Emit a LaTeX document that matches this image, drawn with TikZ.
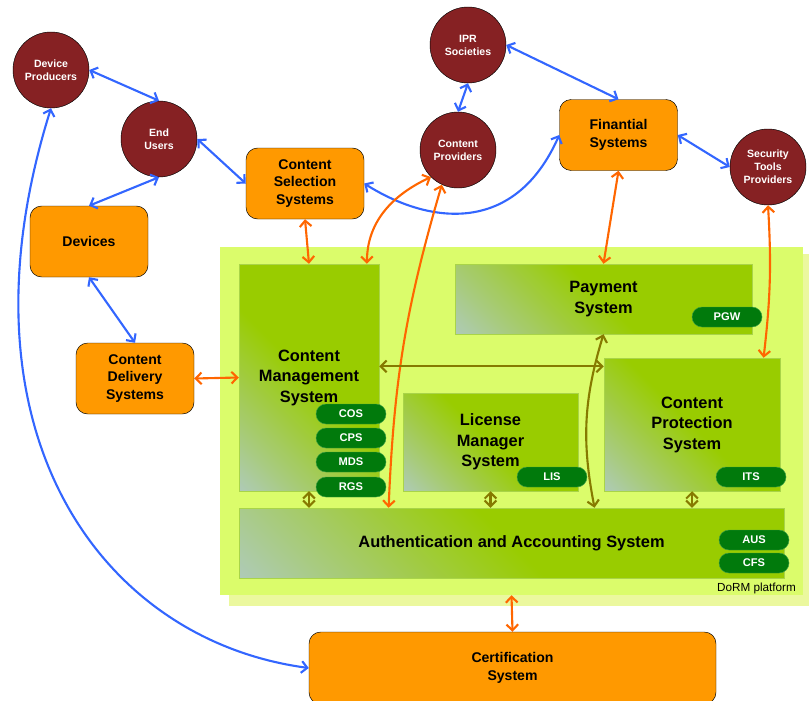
\documentclass[tikz,border=0pt]{standalone}
\usepackage{fontspec}
\setmainfont{Liberation Sans}
\usetikzlibrary{arrows.meta}

\definecolor{actorred}{HTML}{862123}
\definecolor{extorange}{HTML}{FF9900}
\definecolor{platgreen}{HTML}{DBFC6B}
\definecolor{platshadow}{HTML}{EBF89E}
\definecolor{subgreen}{HTML}{99CC00}
\definecolor{subblue}{HTML}{B4CAE6}
\definecolor{subedge}{HTML}{A9D448}
\definecolor{modgreen}{HTML}{017A0C}
\definecolor{modedge}{HTML}{3C9D45}
\definecolor{linkblue}{HTML}{3366FF}
\definecolor{linkorange}{HTML}{FF6600}
\definecolor{linkolive}{HTML}{867A00}

\pgfdeclareverticalshading{subshade}{100bp}{color(0bp)=(subblue); color(6bp)=(subblue);
    color(25bp)=(subgreen!45!subblue); color(50bp)=(subgreen); color(100bp)=(subgreen)}

\tikzset{
    actor/.style={circle, draw=black, thin, fill=actorred, minimum size=22.8mm, inner sep=0pt,
        align=center, text=white, font=\fontsize{9}{11}\selectfont\bfseries},
    extbox/.style={draw=black, thin, fill=extorange, rounded corners=3.5mm, minimum width=35.4mm,
        minimum height=21.3mm, align=center, font=\fontsize{12}{15}\selectfont\bfseries},
    subsys/.style={draw=subedge, thin, shade, shading=subshade, shading angle=-45,
        align=center, inner sep=0pt, font=\fontsize{14}{17.5}\selectfont\bfseries},
    module/.style={draw=modedge, thin, fill=modgreen, rounded corners=3mm, minimum width=21mm,
        minimum height=6mm, inner sep=0pt, text=white, font=\fontsize{9.5}{11}\selectfont\bfseries},
    link/.style={<->, line width=1.8pt, >={Straight Barb[length=5pt,width=10pt]}},
}

\begin{document}
\begin{tikzpicture}[x=0.3mm, y=-0.3mm]
        \useasboundingbox (0, 0) rectangle (809, 700);

        % DoRM platform
        \fill[platshadow] (229, 254) rectangle (809, 606);
        \node[fill=platgreen, minimum width=174.9mm, minimum height=104.4mm] (dorm) at (511.5, 421) {};
        \node[anchor=east, font=\fontsize{10}{12}\selectfont] (dormlabel) at (800, 588) {DoRM platform};

        \node[subsys, minimum width=42mm, minimum height=68.1mm] (cms) at (309, 377.5) {Content \\ Management \\ System};
        \node[subsys, minimum width=89.1mm, minimum height=21mm] (pay) at (603.5, 299) {Payment \\ System};
        \node[subsys, minimum width=52.5mm, minimum height=29.4mm] (lic) at (490.5, 442) {License \\ Manager \\ System};
        \node[subsys, minimum width=52.8mm, minimum height=39.9mm] (cprot) at (692, 424.5) {Content \\ Protection \\ System};
        \node[subsys, minimum width=163.5mm, minimum height=21mm] (auth) at (511.5, 543) {Authentication and Accounting System};

        \node[module] (cos) at (351, 414) {COS};
        \node[module] (cps) at (351, 438) {CPS};
        \node[module] (mds) at (351, 462) {MDS};
        \node[module] (rgs) at (351, 487) {RGS};
        \node[module] (lis) at (552, 477) {LIS};
        \node[module] (its) at (751, 477) {ITS};
        \node[module] (pgw) at (727, 317) {PGW};
        \node[module] (aus) at (754, 540) {AUS};
        \node[module] (cfs) at (754, 563) {CFS};

        % outside actors and systems
        \node[actor] (dp) at (51, 70) {Device \\ Producers};
        \node[actor] (eu) at (159, 139) {End \\ Users};
        \node[actor] (ipr) at (468, 45) {IPR \\ Societies};
        \node[actor] (cp) at (458, 150) {Content \\ Providers};
        \node[actor] (stp) at (768, 167) {Security \\ Tools \\ Providers};

        \node[extbox] (css) at (305, 183.5) {Content \\ Selection \\ Systems};
        \node[extbox] (dev) at (89, 241.5) {Devices};
        \node[extbox] (fin) at (618.5, 135) {Finantial \\ Systems};
        \node[extbox] (cds) at (135, 378.5) {Content \\ Delivery \\ Systems};
        \node[extbox, minimum width=122.1mm, minimum height=21.6mm] (cert) at (512.5, 668) {Certification \\ System};

        \begin{scope}[link, linkblue]
            \draw (dp.0) -- (eu.90);
            \draw (eu.270) -- (dev.north);
            \draw (eu.0) -- (css.west);
            \draw (dev.south) -- (cds.north);
            \draw (ipr.270) -- (cp.90);
            \draw (ipr.0) -- (fin.north);
            \draw (fin.east) -- (stp.180);
            \draw (css.east) .. controls (430, 225) and (515, 235) .. (fin.west);
            \draw (dp.270) .. controls (-50, 430) and (100, 640) .. (cert.west);
        \end{scope}

        \begin{scope}[link, linkorange]
            \draw (css.south) -- (cms.north);
            \draw (cp.225) to[out=205, in=90] (cms.63);
            \draw (cp.245) to[bend right=7] (auth.164);
            \draw (fin.south) -- (pay.north);
            \draw (stp.270) to[bend left=5] (cprot.43);
            \draw (cds.east) -- (cms.west);
            \draw (dorm.south) -- (cert.north);
        \end{scope}

        \begin{scope}[link, linkolive]
            \draw (cms.9) -- (cms.9 -| cprot.west);
            \draw (auth.23) to[bend left=14] (pay.south);
            \draw (cms.south) -- (cms.south |- auth.north);
            \draw (lic.south) -- (lic.south |- auth.north);
            \draw (cprot.south) -- (cprot.south |- auth.north);
        \end{scope}
    \end{tikzpicture}
\end{document}
